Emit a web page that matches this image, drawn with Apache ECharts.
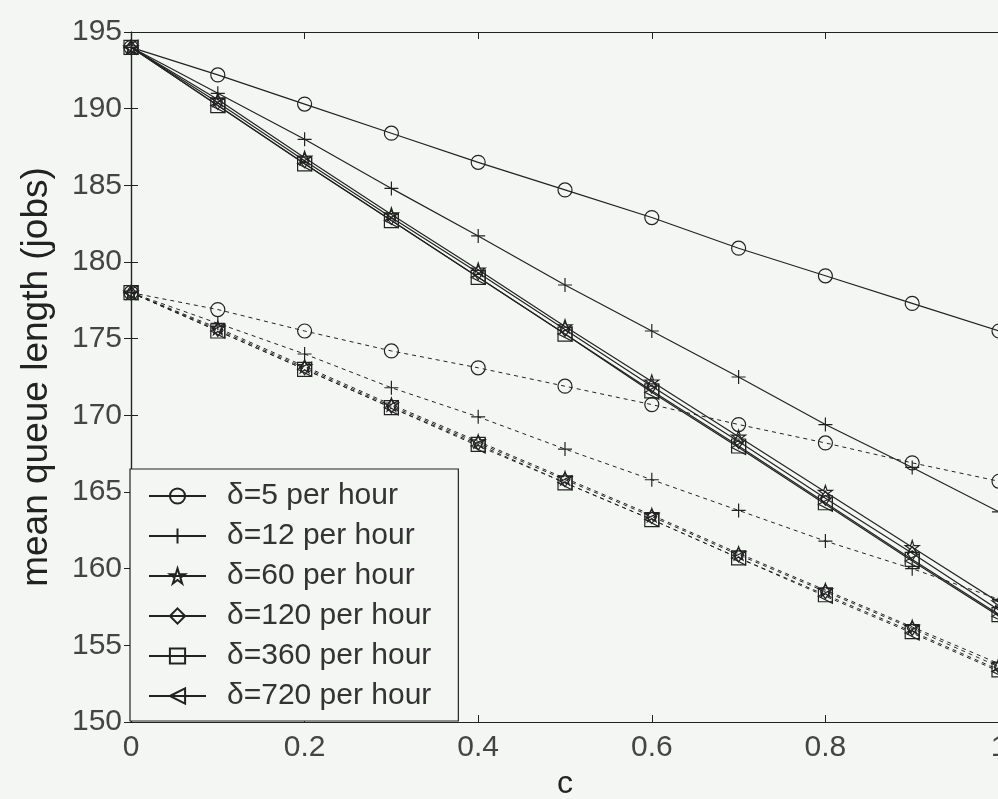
<!DOCTYPE html>
<html>
<head>
<meta charset="utf-8">
<script src="https://cdn.jsdelivr.net/npm/echarts@6/dist/echarts.min.js"></script>
<style>
  html, body { margin: 0; padding: 0; background: #f4f6f4; }
  #main { width: 998px; height: 799px; }
</style>
</head>
<body>
<div id="main"></div>
<script>
// x values (c) and tick labels
var cValues = [0, 0.1, 0.2, 0.3, 0.4, 0.5, 0.6, 0.7, 0.8, 0.9, 1]
var xTicks = ['0', '0.2', '0.4', '0.6', '0.8', '1']
var yTicks = [150, 155, 160, 165, 170, 175, 180, 185, 190, 195]
var names = ['δ=5 per hour', 'δ=12 per hour', 'δ=60 per hour', 'δ=120 per hour', 'δ=360 per hour', 'δ=720 per hour']

// solid curves (upper group)
var solid5 = [194, 192.2, 190.3, 188.4, 186.5, 184.7, 182.9, 180.9, 179.1, 177.3, 175.5]
var solid12 = [194, 191.0, 188.0, 184.8, 181.7, 178.5, 175.5, 172.5, 169.4, 166.6, 163.7]
var solid60 = [194, 190.6, 186.8, 183.1, 179.5, 175.8, 172.2, 168.6, 165.0, 161.4, 157.8]
var solid120 = [194, 190.4, 186.6, 182.9, 179.3, 175.6, 171.9, 168.3, 164.6, 161.0, 157.3]
var solid360 = [194, 190.2, 186.4, 182.7, 179.0, 175.3, 171.6, 168.0, 164.3, 160.6, 157.0]
var solid720 = [194, 190.2, 186.4, 182.7, 179.0, 175.3, 171.5, 167.9, 164.2, 160.5, 156.9]

// dashed curves (lower group)
var dash5 = [178, 176.9, 175.5, 174.2, 173.1, 171.9, 170.7, 169.4, 168.2, 166.9, 165.7]
var dash12 = [178, 176.0, 174.0, 171.8, 169.9, 167.8, 165.8, 163.8, 161.8, 160.0, 158.0]
var dash60 = [178, 175.7, 173.2, 170.7, 168.3, 165.9, 163.5, 161.0, 158.6, 156.2, 153.8]
var dash120 = [178, 175.6, 173.1, 170.6, 168.2, 165.8, 163.4, 160.9, 158.5, 156.1, 153.6]
var dash360 = [178, 175.5, 173.0, 170.5, 168.1, 165.6, 163.2, 160.7, 158.3, 155.9, 153.4]
var dash720 = [178, 175.5, 173.0, 170.5, 168.0, 165.6, 163.2, 160.7, 158.2, 155.8, 153.3]

var ink = '#222'
var bg = '#f4f6f4'

// MATLAB-like hollow markers: o, +, pentagram, diamond, square, <
var markers = [
  'path://M5,0A5,5 0 1,1 4.99,0Z',
  'path://M0,5L10,5M5,0L5,10',
  'path://M5,0L6.18,3.62L10,3.62L6.91,5.86L8.09,9.51L5,7.27L1.91,9.51L3.09,5.86L0,3.62L3.82,3.62Z',
  'path://M3.5,0L7,5L3.5,10L0,5Z',
  'path://M0,0L10,0L10,10L0,10Z',
  'path://M0,5L10,0L10,10Z'
]

function pairs(vals) {
  return cValues.map(function (c, i) { return [c, vals[i]] })
}

function makeSeries(name, vals, marker, dashed) {
  return {
    name: name,
    type: 'line',
    data: pairs(vals),
    symbol: marker,
    symbolSize: 14,
    symbolKeepAspect: true,
    showAllSymbol: true,
    animation: false,
    lineStyle: { color: ink, width: dashed ? 1 : 1.2, type: dashed ? [4, 4] : 'solid' },
    itemStyle: { color: 'rgba(0,0,0,0)', borderColor: ink, borderWidth: 1.2 },
    emphasis: { disabled: true }
  }
}

var solidSets = [solid5, solid12, solid60, solid120, solid360, solid720]
var dashSets = [dash5, dash12, dash60, dash120, dash360, dash720]
var series = []
solidSets.forEach(function (s, i) { series.push(makeSeries(names[i], s, markers[i], false)) })
dashSets.forEach(function (s, i) { series.push(makeSeries(names[i], s, markers[i], true)) })

var chart = echarts.init(document.getElementById('main'))
chart.setOption({
  backgroundColor: bg,
  textStyle: { fontFamily: 'Liberation Sans, Arial, sans-serif' },
  grid: { left: 131, top: 32, width: 868, height: 690, outerBoundsMode: 'none', containLabel: false },
  legend: {
    data: names,
    orient: 'vertical',
    left: 130,
    top: 469,
    itemWidth: 57,
    itemHeight: 19,
    itemGap: 10,
    padding: [12, 27, 10, 18],
    backgroundColor: bg,
    borderColor: ink,
    borderWidth: 1.2,
    borderRadius: 0,
    selectedMode: false,
    textStyle: { fontSize: 30, color: '#333', lineHeight: 30, padding: [0, 0, 0, 16] }
  },
  xAxis: [{
    type: 'value',
    min: 0, max: 1, interval: 0.2,
    name: 'c',
    nameLocation: 'middle',
    nameGap: 44,
    nameTextStyle: { fontSize: 32, color: ink },
    axisLine: { lineStyle: { color: ink, width: 1.2 } },
    axisTick: { inside: true, length: 7, lineStyle: { color: ink } },
    axisLabel: {
      fontSize: 30, color: '#444', margin: 11,
      formatter: function (v) { return xTicks[Math.round(v / 0.2)] }
    },
    splitLine: { show: false }
  }, {
    type: 'value',
    position: 'top',
    min: 0, max: 1, interval: 0.2,
    axisLine: { show: true, lineStyle: { color: ink, width: 1.2 } },
    axisTick: { inside: true, length: 7, lineStyle: { color: ink } },
    axisLabel: { show: false },
    splitLine: { show: false }
  }],
  yAxis: [{
    type: 'value',
    min: yTicks[0], max: yTicks[yTicks.length - 1], interval: 5,
    name: 'mean queue length (jobs)',
    nameLocation: 'middle',
    nameRotate: 90,
    nameGap: 76,
    nameTextStyle: { fontSize: 37, color: ink },
    axisLine: { show: true, lineStyle: { color: ink, width: 1.2 } },
    axisTick: { inside: true, length: 7, lineStyle: { color: ink } },
    axisLabel: { fontSize: 30, color: '#444', margin: 9 },
    splitLine: { show: false }
  }, {
    type: 'value',
    position: 'right',
    min: yTicks[0], max: yTicks[yTicks.length - 1], interval: 5,
    axisLine: { show: true, lineStyle: { color: ink, width: 1.2 } },
    axisTick: { inside: true, length: 7, lineStyle: { color: ink } },
    axisLabel: { show: false },
    splitLine: { show: false }
  }],
  series: series
})
</script>
</body>
</html>
